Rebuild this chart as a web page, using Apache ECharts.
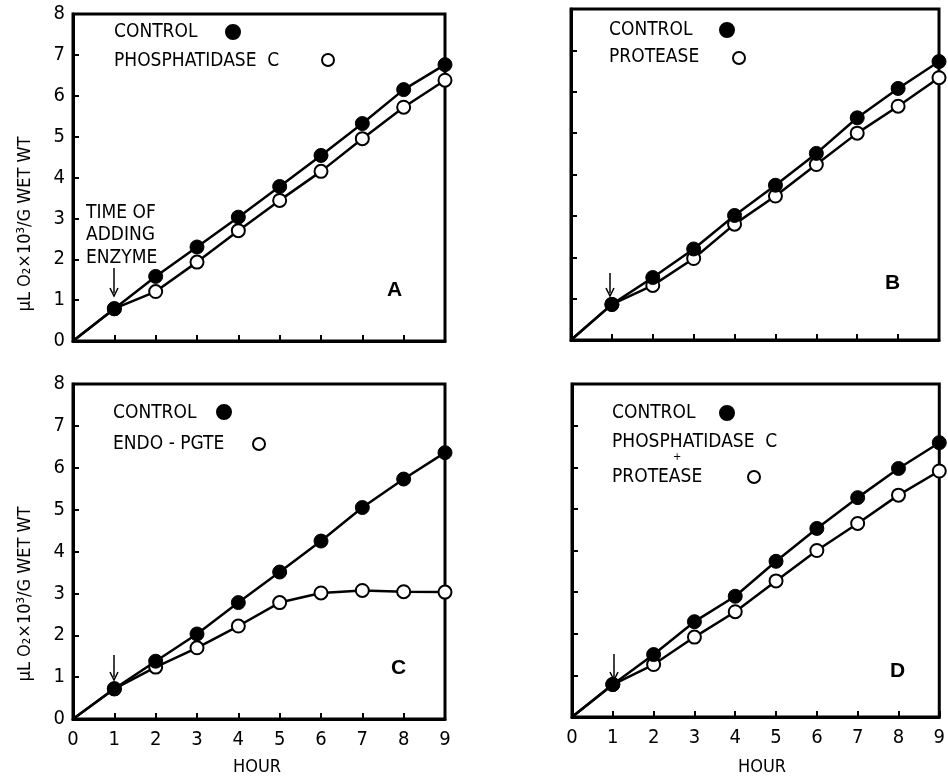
<!DOCTYPE html>
<html><head><meta charset="utf-8">
<script src="https://cdn.jsdelivr.net/npm/echarts@6/dist/echarts.min.js"></script>
<style>html,body{margin:0;padding:0;background:#fff}#c{width:948px;height:778px}</style>
</head><body><div id="c"></div>
<script>
const hours = [0,1,2,3,4,5,6,7,8,9];
const yTicks = [0,1,2,3,4,5,6,7,8];
const aControl = [0,0.79,1.58,2.30,3.03,3.78,4.54,5.32,6.15,6.76];
const aPhosC   = [0,0.79,1.21,1.93,2.70,3.44,4.15,4.95,5.72,6.38];
const bControl = [0,0.86,1.51,2.20,3.01,3.74,4.51,5.37,6.08,6.73];
const bProtease= [0,0.86,1.32,1.97,2.80,3.48,4.24,5.00,5.65,6.34];
const cControl = [0,0.72,1.38,2.03,2.78,3.51,4.25,5.05,5.73,6.36];
const cEndo    = [0,0.72,1.24,1.70,2.22,2.78,3.01,3.07,3.04,3.03];
const dControl = [0,0.78,1.50,2.29,2.90,3.74,4.53,5.27,5.97,6.59];
const dBoth    = [0,0.78,1.26,1.92,2.53,3.27,4.00,4.65,5.33,5.91];
const yTitle = 'μL O₂×10³/G WET WT';
const xTitle = 'HOUR';

const FONT = '"Liberation Sans Narrow","DejaVu Sans Condensed","Liberation Sans",sans-serif';
const grids = [
  {left:73, top:14, width:372, height:327},
  {left:571, top:9, width:368, height:331},
  {left:73, top:384, width:372, height:335},
  {left:572, top:384, width:372, height:333}
];
const showX = [false,false,true,true];
const showY = [true,false,true,false];
const xAxes = grids.map((g,i)=>({
  type:'value', gridIndex:i, min:0, max:9, interval:1,
  axisLine:{show:true, onZero:false, lineStyle:{color:'#000', width:3}},
  axisTick:{show:true, inside:true, length:6, lineStyle:{color:'#000', width:2}},
  axisLabel:{show:showX[i], color:'#000', fontFamily:FONT, fontSize:20, margin:11,
    formatter:v=>hours.includes(v)?String(v):''},
  splitLine:{show:false}
}));
const yAxes = grids.map((g,i)=>({
  type:'value', gridIndex:i, min:0, max:8, interval:1,
  axisLine:{show:true, onZero:false, lineStyle:{color:'#000', width:3}},
  axisTick:{show:true, inside:true, length:6, lineStyle:{color:'#000', width:2}},
  axisLabel:{show:showY[i], color:'#000', fontFamily:FONT, fontSize:20, margin:8,
    formatter:v=>yTicks.includes(v)?String(v):''},
  splitLine:{show:false}
}));
function pts(arr){ return arr.map((v,k)=>[hours[k], v]); }
const sym = (v,p)=> p.dataIndex===0 ? 'none' : 'circle';
function filled(arr,i){
  return {type:'line', xAxisIndex:i, yAxisIndex:i, data:pts(arr), symbol:sym, symbolSize:14,
    clip:false, z:4, lineStyle:{color:'#000', width:2.5}, itemStyle:{color:'#000', borderColor:'#000', borderWidth:1}};
}
function open(arr,i){
  return {type:'line', xAxisIndex:i, yAxisIndex:i, data:pts(arr), symbol:sym, symbolSize:13,
    clip:false, z:3, lineStyle:{color:'#000', width:2.5}, itemStyle:{color:'#fff', borderColor:'#000', borderWidth:2}};
}
function txt(x,y,t,o){ return Object.assign({type:'text', x:x, y:y, z:10, style:Object.assign({text:t, fill:'#000', font:'19px '+FONT, textVerticalAlign:'middle'}, o||{})}); }
function dot(x,y,fillc){ return {type:'circle', z:10, shape:{cx:x, cy:y, r:fillc?7:6}, style:{fill:fillc?'#000':'#fff', stroke:'#000', lineWidth:2}}; }
function arrow(x,y1,y2){ return [
  {type:'line', z:10, shape:{x1:x,y1:y1,x2:x,y2:y2-3}, style:{stroke:'#000', lineWidth:1.5}},
  {type:'polyline', z:10, shape:{points:[[x-4,y2-8],[x,y2],[x+4,y2-8]]}, style:{stroke:'#000', lineWidth:1.5, fill:null}}
]; }
const bold = {font:'bold 21px "Liberation Sans","DejaVu Sans",sans-serif'};
const graphic = [
  txt(114,32,'CONTROL'), dot(233,32,true),
  txt(114,61,'PHOSPHATIDASE  C'), dot(328,60,false),
  txt(86,213,'TIME OF'), txt(86,235,'ADDING'), txt(86,258,'ENZYME'),
  ...arrow(114,268,296),
  txt(387,290,'A',bold),
  txt(609,30,'CONTROL'), dot(727,30,true),
  txt(609,57,'PROTEASE'), dot(739,58,false),
  ...arrow(610,273,296),
  txt(885,283,'B',bold),
  txt(113,413,'CONTROL'), dot(224,412,true),
  txt(113,444,'ENDO - PGTE'), dot(259,444,false),
  ...arrow(114,655,680),
  txt(391,668,'C',bold),
  txt(612,413,'CONTROL'), dot(727,413,true),
  txt(612,442,'PHOSPHATIDASE  C'), txt(673,457,'+',{font:'11px '+FONT}),
  txt(612,477,'PROTEASE'), dot(754,477,false),
  ...arrow(614,654,680),
  txt(890,671,'D',bold),
  {type:'text', x:25, y:224, rotation:Math.PI/2, z:10, style:{text:yTitle, fill:'#000', font:'18px '+FONT, textAlign:'center', textVerticalAlign:'middle'}},
  {type:'text', x:25, y:594, rotation:Math.PI/2, z:10, style:{text:yTitle, fill:'#000', font:'18px '+FONT, textAlign:'center', textVerticalAlign:'middle'}},
  {type:'text', x:257, y:767, z:10, style:{text:xTitle, fill:'#000', font:'18px '+FONT, textAlign:'center', textVerticalAlign:'middle'}},
  {type:'text', x:762, y:767, z:10, style:{text:xTitle, fill:'#000', font:'18px '+FONT, textAlign:'center', textVerticalAlign:'middle'}}
];
const chart = echarts.init(document.getElementById('c'), null, {renderer:'canvas'});
chart.setOption({
  animation:false,
  backgroundColor:'#fff',
  grid: grids.map(g=>Object.assign({show:true, borderColor:'#000', borderWidth:3, backgroundColor:'transparent'}, g)),
  xAxis: xAxes, yAxis: yAxes,
  series:[open(aPhosC,0), filled(aControl,0), open(bProtease,1), filled(bControl,1),
          open(cEndo,2), filled(cControl,2), open(dBoth,3), filled(dControl,3)],
  graphic: graphic
});
</script></body></html>
